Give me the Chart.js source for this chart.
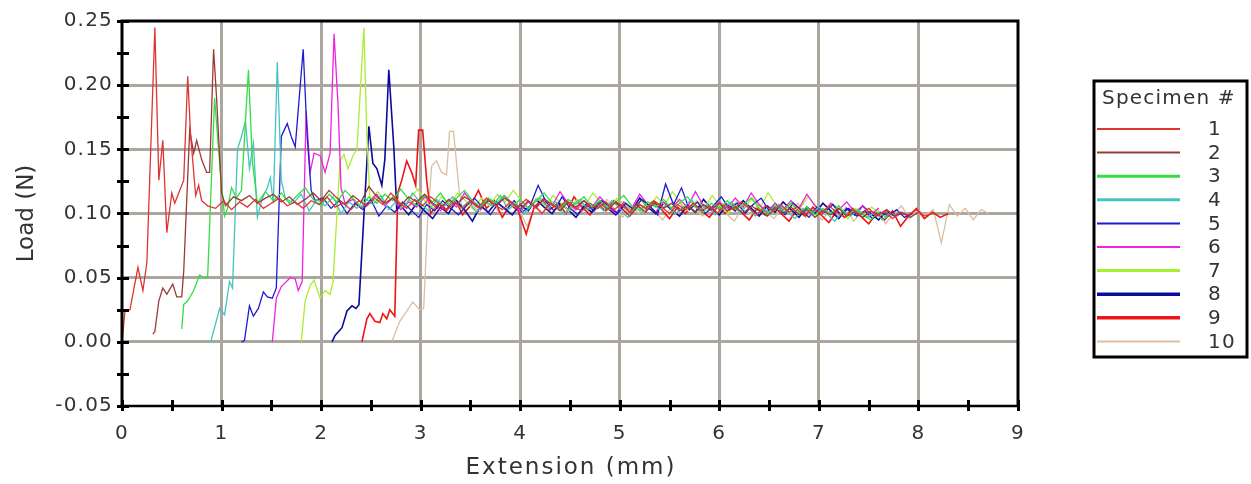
<!DOCTYPE html>
<html>
<head>
<meta charset="utf-8">
<script src="https://cdn.jsdelivr.net/npm/chart.js@4.4.1/dist/chart.umd.min.js"></script>
<style>
  html, body { margin: 0; background: #fff; }
  #wrap { width: 1251px; height: 484px; }
</style>
</head>
<body>
<div id="wrap"><canvas id="loadChart"></canvas></div>
<script>
// Specimen labels
const specimens = ['1', '2', '3', '4', '5', '6', '7', '8', '9', '10'];

// Axis ranges and tick labels
const extRange = [0, 9];
const loadRange = [-0.05, 0.25];
const extTicks = [0, 1, 2, 3, 4, 5, 6, 7, 8, 9];
const loadTicks = ['-0.05', '0.00', '0.05', '0.10', '0.15', '0.20', '0.25'];

// Start of each curve: [extension mm, load N]
const onset1 = [[0, 0], [0.03, 0.024], [0.08, 0.025], [0.16, 0.058], [0.21, 0.040], [0.25, 0.062], [0.33, 0.245], [0.37, 0.126], [0.41, 0.157], [0.45, 0.085], [0.50, 0.116], [0.53, 0.108], [0.62, 0.126], [0.66, 0.207], [0.69, 0.160], [0.74, 0.114], [0.77, 0.122], [0.80, 0.110], [0.86, 0.106]];
const onset2 = [[0.31, 0.006], [0.33, 0.008], [0.37, 0.032], [0.41, 0.042], [0.45, 0.037], [0.51, 0.045], [0.55, 0.035], [0.60, 0.035], [0.62, 0.055], [0.68, 0.165], [0.72, 0.147], [0.75, 0.157], [0.80, 0.142], [0.85, 0.132], [0.88, 0.132], [0.92, 0.228], [0.95, 0.190], [1.00, 0.116], [1.04, 0.106]];
const onset3 = [[0.60, 0.010], [0.62, 0.029], [0.66, 0.032], [0.72, 0.040], [0.78, 0.052], [0.82, 0.050], [0.86, 0.050], [0.93, 0.190], [0.96, 0.160], [0.99, 0.130], [1.03, 0.098], [1.06, 0.104], [1.10, 0.120], [1.15, 0.112], [1.20, 0.118], [1.27, 0.212], [1.31, 0.140], [1.36, 0.108]];
const onset4 = [[0.89, 0.000], [0.94, 0.014], [0.98, 0.026], [1.03, 0.021], [1.08, 0.047], [1.11, 0.042], [1.16, 0.150], [1.20, 0.160], [1.24, 0.172], [1.28, 0.135], [1.32, 0.155], [1.36, 0.097], [1.41, 0.112], [1.46, 0.120], [1.49, 0.128], [1.52, 0.108], [1.56, 0.218], [1.60, 0.126], [1.64, 0.112]];
const onset5 = [[1.20, 0.000], [1.23, 0.001], [1.28, 0.028], [1.32, 0.020], [1.37, 0.026], [1.42, 0.039], [1.46, 0.035], [1.51, 0.034], [1.55, 0.042], [1.60, 0.160], [1.66, 0.170], [1.70, 0.160], [1.74, 0.152], [1.82, 0.228], [1.86, 0.160], [1.90, 0.118], [1.94, 0.110]];
const onset6 = [[1.51, 0.000], [1.55, 0.034], [1.60, 0.043], [1.69, 0.050], [1.74, 0.049], [1.77, 0.040], [1.81, 0.047], [1.85, 0.180], [1.89, 0.132], [1.93, 0.147], [1.99, 0.145], [2.04, 0.132], [2.09, 0.147], [2.13, 0.240], [2.17, 0.185], [2.20, 0.120], [2.24, 0.108]];
const onset7 = [[1.80, 0.000], [1.84, 0.032], [1.89, 0.044], [1.93, 0.048], [1.99, 0.034], [2.04, 0.040], [2.09, 0.037], [2.12, 0.047], [2.19, 0.141], [2.23, 0.146], [2.27, 0.135], [2.32, 0.145], [2.36, 0.150], [2.43, 0.245], [2.46, 0.160], [2.49, 0.111]];
const onset8 = [[2.11, 0.000], [2.14, 0.005], [2.21, 0.011], [2.26, 0.024], [2.31, 0.028], [2.35, 0.026], [2.38, 0.029], [2.48, 0.168], [2.52, 0.139], [2.56, 0.135], [2.61, 0.122], [2.64, 0.142], [2.68, 0.212], [2.73, 0.152], [2.76, 0.103], [2.80, 0.106]];
const onset9 = [[2.41, 0.000], [2.46, 0.018], [2.49, 0.022], [2.54, 0.016], [2.59, 0.015], [2.62, 0.022], [2.66, 0.018], [2.69, 0.025], [2.74, 0.020], [2.77, 0.116], [2.81, 0.126], [2.86, 0.141], [2.91, 0.132], [2.95, 0.122], [2.98, 0.165], [3.02, 0.165], [3.06, 0.126], [3.10, 0.100]];
const onset10 = [[2.71, 0.000], [2.79, 0.016], [2.86, 0.024], [2.92, 0.031], [2.99, 0.025], [3.03, 0.026], [3.07, 0.095], [3.11, 0.137], [3.16, 0.141], [3.21, 0.132], [3.26, 0.130], [3.29, 0.164], [3.33, 0.164], [3.39, 0.115], [3.43, 0.100]];

// Steady peel load after the onset, sampled every TAIL_STEP mm
const TAIL_STEP = 0.08;
const tail1 = [.104, .110, .103, .109, .105, .111, .104, .108, .112, .106, .109, .104, .110, .107, .113, .105, .108, .103, .110, .106, .112, .107, .116, .109, .104, .111, .106, .113, .108, .102, .109, .104, .110, .105, .112, .107, .103, .109, .105, .111, .106, .100, .108, .104, .110, .105, .102, .108, .104, .109, .103, .107, .101, .108, .104, .110, .105, .100, .107, .103, .108, .102, .106, .100, .107, .103, .109, .104, .099, .106, .102, .107, .101, .105, .099, .104, .100, .106, .101, .097, .103, .099, .104, .098, .102, .096, .101, .099, .103, .098, .100];
const tail2 = [.113, .110, .114, .108, .112, .115, .109, .113, .107, .111, .116, .110, .118, .112, .107, .114, .109, .121, .113, .108, .112, .106, .113, .109, .115, .108, .104, .111, .107, .113, .109, .104, .110, .106, .112, .108, .103, .110, .105, .111, .107, .102, .109, .105, .110, .104, .108, .103, .109, .105, .100, .107, .103, .109, .104, .108, .102, .106, .101, .107, .103, .108, .102, .105, .100, .106, .102, .098, .104, .100, .105, .099, .103, .097, .102, .099, .104, .098, .101, .097, .102, .099, .103, .098, .100, .097, .101];
const tail3 = [.117, .110, .116, .108, .114, .120, .111, .106, .115, .109, .118, .112, .105, .113, .108, .115, .110, .119, .111, .106, .114, .109, .116, .107, .112, .118, .110, .105, .112, .108, .114, .106, .111, .104, .110, .116, .108, .103, .111, .107, .113, .105, .110, .104, .109, .114, .106, .102, .109, .105, .111, .104, .108, .113, .105, .101, .108, .104, .110, .103, .107, .112, .104, .100, .106, .102, .108, .101, .105, .099, .104, .100, .106, .098, .103, .099, .095, .101, .097];
const tail4 = [.108, .115, .102, .111, .106, .113, .100, .109, .104, .112, .107, .114, .103, .110, .105, .116, .108, .102, .111, .106, .113, .104, .109, .101, .110, .106, .114, .103, .108, .100, .107, .112, .104, .109, .099, .106, .111, .103, .108, .102, .110, .104, .097, .106, .101, .109, .103, .107, .100, .105, .111, .102, .107, .099, .104, .109, .101, .106, .098, .104, .100, .107, .102, .096, .104, .099, .105, .100, .094, .102, .098, .103, .097, .101, .095, .100, .098];
const tail5 = [.112, .104, .110, .100, .108, .103, .111, .098, .106, .101, .109, .103, .097, .107, .102, .110, .104, .099, .106, .112, .105, .099, .108, .103, .110, .101, .106, .122, .109, .102, .113, .104, .099, .107, .102, .110, .105, .100, .108, .103, .111, .106, .099, .123, .107, .120, .103, .109, .100, .106, .113, .104, .108, .100, .107, .112, .102, .106, .099, .108, .103, .097, .105, .101, .107, .099, .104, .098, .102, .096, .101, .098, .103, .097, .100];
const tail6 = [.111, .104, .109, .115, .106, .112, .103, .109, .105, .113, .107, .102, .110, .105, .116, .108, .103, .111, .106, .114, .108, .101, .109, .104, .112, .106, .117, .108, .103, .110, .105, .113, .106, .100, .109, .104, .115, .107, .101, .109, .104, .111, .105, .117, .106, .102, .109, .104, .112, .105, .116, .107, .101, .108, .103, .110, .104, .115, .106, .100, .108, .103, .109, .101, .106, .099, .104];
const tail7 = [.117, .108, .114, .105, .111, .119, .109, .104, .113, .107, .116, .110, .103, .112, .106, .115, .109, .118, .110, .104, .112, .106, .114, .108, .102, .111, .106, .116, .109, .103, .112, .107, .101, .110, .105, .113, .107, .117, .108, .102, .110, .105, .114, .106, .100, .109, .104, .112, .105, .116, .107, .101, .109, .104, .113, .106, .100, .108, .103, .096, .104, .099, .105, .100, .102];
const tail8 = [.099, .108, .102, .096, .105, .100, .110, .103, .094, .106, .101, .109, .104, .099, .107, .102, .111, .105, .100, .108, .103, .097, .106, .101, .110, .104, .099, .107, .102, .112, .105, .100, .108, .103, .098, .106, .101, .111, .104, .099, .107, .102, .110, .104, .098, .106, .101, .109, .103, .097, .105, .100, .108, .102, .096, .104, .099, .106, .100, .095, .102, .098, .101];
const tail9 = [.108, .103, .112, .099, .106, .118, .104, .110, .097, .107, .102, .084, .105, .111, .103, .108, .100, .113, .105, .099, .107, .102, .110, .104, .098, .106, .101, .109, .103, .096, .105, .100, .108, .102, .097, .105, .100, .107, .101, .095, .104, .099, .106, .100, .094, .103, .098, .105, .099, .093, .102, .097, .104, .098, .092, .100, .095, .102, .090, .098, .104, .096, .101, .097, .100];
const tail10 = [.107, .101, .112, .104, .098, .109, .103, .090, .106, .100, .110, .104, .110, .102, .107, .099, .105, .111, .103, .097, .106, .100, .108, .102, .095, .104, .110, .101, .106, .098, .103, .109, .100, .094, .104, .099, .107, .101, .096, .105, .100, .108, .097, .103, .095, .102, .098, .105, .094, .101, .097, .104, .092, .100, .106, .096, .103, .099, .103, .077, .107, .098, .104, .095, .103, .100];

const onsets = [onset1, onset2, onset3, onset4, onset5, onset6, onset7, onset8, onset9, onset10];
const tails = [tail1, tail2, tail3, tail4, tail5, tail6, tail7, tail8, tail9, tail10];

// Line styling per specimen
const lineColors = ['#dd3530', '#993a35', '#33dd44', '#44c4c0', '#1c1cd0', '#ee22e0', '#aaee33', '#0c0c9c', '#ee1515', '#dcbf9f'];
const legendWidths = [2, 2, 3, 3, 2, 2, 3, 3.5, 3.5, 2];

function buildCurve(onset, tail) {
  const pts = onset.map(([x, y]) => ({ x, y }));
  const x0 = onset[onset.length - 1][0];
  tail.forEach((y, i) => pts.push({ x: +(x0 + (i + 1) * TAIL_STEP).toFixed(3), y }));
  return pts;
}

const datasets = specimens.map((name, i) => ({
  label: name,
  data: buildCurve(onsets[i], tails[i]),
  borderColor: lineColors[i],
  borderWidth: i === 7 || i === 8 ? 1.6 : 1.3,
  pointRadius: 0,
  tension: 0,
  fill: false
}));

const TEXT = '#333';
const FONT = 'DejaVu Sans';

// Frame, crossing tick marks, axis titles and the boxed legend
const framePlugin = {
  id: 'frame',
  beforeDraw(chart) {
    chart.ctx.letterSpacing = '1.2px';
  },
  afterDraw(chart) {
    const { ctx, chartArea: a, scales: { x, y } } = chart;
    ctx.save();
    ctx.strokeStyle = '#000';
    ctx.lineCap = 'butt';

    // ticks every 0.025 N and 0.5 mm
    ctx.lineWidth = 3;
    ctx.beginPath();
    for (let k = 0; k <= 12; k++) {
      const py = Math.round(y.getPixelForValue(loadRange[0] + k * 0.025)) + 0.5;
      ctx.moveTo(a.left - 5, py);
      ctx.lineTo(a.left + 7, py);
    }
    for (let k = 0; k <= 18; k++) {
      const px = Math.round(x.getPixelForValue(k * 0.5)) + 0.5;
      ctx.moveTo(px, a.bottom - 6);
      ctx.lineTo(px, a.bottom + 5);
    }
    ctx.stroke();

    // frame
    ctx.lineWidth = 3;
    ctx.beginPath();
    ctx.moveTo(a.left, a.bottom);
    ctx.lineTo(a.left, a.top);
    ctx.lineTo(a.right, a.top);
    ctx.lineTo(a.right, a.bottom);
    ctx.stroke();
    ctx.lineWidth = 2.5;
    ctx.beginPath();
    ctx.moveTo(a.left - 1.5, a.bottom);
    ctx.lineTo(a.right + 1.5, a.bottom);
    ctx.stroke();

    // axis titles
    ctx.fillStyle = TEXT;
    ctx.font = '23px "' + FONT + '"';
    ctx.textAlign = 'center';
    ctx.textBaseline = 'middle';
    ctx.letterSpacing = '2px';
    ctx.fillText('Extension (mm)', (a.left + a.right) / 2 + 1, 468);
    ctx.letterSpacing = '0px';
    ctx.save();
    ctx.translate(27, (a.top + a.bottom) / 2);
    ctx.rotate(-Math.PI / 2);
    ctx.fillText('Load (N)', 0, 0);
    ctx.restore();

    // legend box
    const bx = 1094, by = 81, bw = 153, bh = 276;
    ctx.lineWidth = 3;
    ctx.strokeRect(bx, by, bw, bh);
    ctx.letterSpacing = '1.2px';
    ctx.font = '20px "' + FONT + '"';
    ctx.textAlign = 'left';
    ctx.fillText('Specimen #', 1102, 99);
    chart.data.datasets.forEach((ds, i) => {
      const ry = 129 + i * 23.6;
      ctx.strokeStyle = ds.borderColor;
      ctx.lineWidth = legendWidths[i];
      ctx.beginPath();
      ctx.moveTo(1097, ry);
      ctx.lineTo(1180, ry);
      ctx.stroke();
      ctx.fillText(ds.label, 1208, ry + 1);
    });
    ctx.restore();
  }
};

const gridColor = (ctx, ends) => {
  const v = ctx.tick ? ctx.tick.value : null;
  return ends.some(e => Math.abs(v - e) < 1e-9) ? 'rgba(0,0,0,0)' : '#aba79e';
};

new Chart(document.getElementById('loadChart'), {
  type: 'line',
  data: { datasets },
  options: {
    responsive: true,
    maintainAspectRatio: false,
    animation: false,
    events: [],
    layout: { padding: { top: 16, right: 233, left: 0, bottom: 0 } },
    plugins: { legend: { display: false }, tooltip: { enabled: false } },
    scales: {
      x: {
        type: 'linear',
        min: extRange[0],
        max: extRange[1],
        afterFit: s => { s.height = 78; },
        afterBuildTicks: s => { s.ticks = extTicks.map(v => ({ value: v })); },
        ticks: {
          color: TEXT,
          font: { family: FONT, size: 20 },
          padding: 16,
          maxRotation: 0,
          callback: v => String(v)
        },
        grid: { color: c => gridColor(c, extRange), lineWidth: 3, drawTicks: false },
        border: { display: false }
      },
      y: {
        min: loadRange[0],
        max: loadRange[1],
        afterFit: s => { s.width = 122; },
        afterBuildTicks: s => { s.ticks = loadTicks.map(t => ({ value: parseFloat(t) })); },
        ticks: {
          color: TEXT,
          font: { family: FONT, size: 20 },
          padding: 9,
          callback: (v, i) => loadTicks[i]
        },
        grid: { color: c => gridColor(c, loadRange), lineWidth: 3, drawTicks: false },
        border: { display: false }
      }
    }
  },
  plugins: [framePlugin]
});
</script>
</body>
</html>
